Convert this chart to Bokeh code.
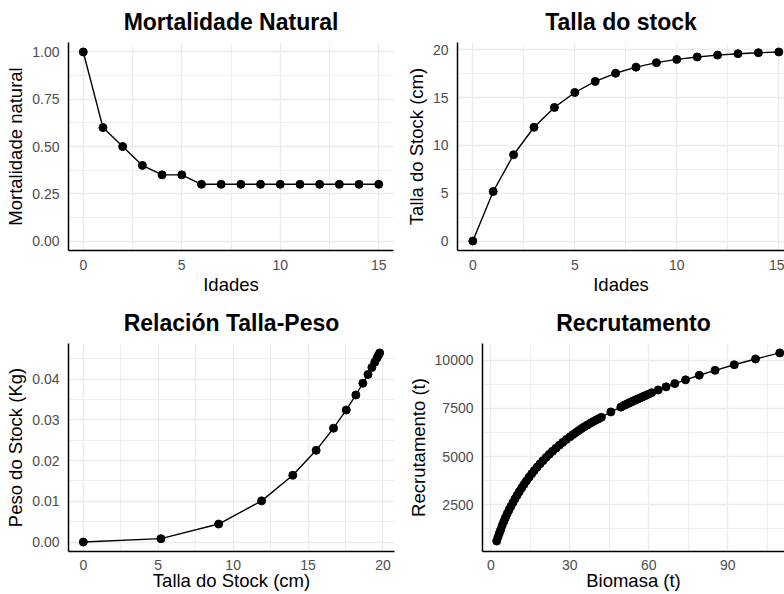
from bokeh.plotting import figure
from bokeh.layouts import column, row
from bokeh.models import Range1d, FixedTicker, NumeralTickFormatter
from bokeh.embed import file_html
from bokeh.resources import INLINE

# ---------------- data ----------------
idades = [0, 1, 2, 3, 4, 5, 6, 7, 8, 9, 10, 11, 12, 13, 14, 15]
mortalidade = [1.0, 0.6, 0.5, 0.4, 0.35, 0.35, 0.3, 0.3, 0.3, 0.3, 0.3, 0.3, 0.3, 0.3, 0.3, 0.3]
talla = [0, 5.18, 9.03, 11.9, 13.98, 15.54, 16.7, 17.55, 18.19, 18.66, 19.0, 19.26, 19.45, 19.6, 19.7, 19.78]
peso = [0, 0.00083, 0.00442, 0.01011, 0.01639, 0.02252, 0.02795, 0.03243, 0.03611,
        0.03899, 0.04115, 0.04287, 0.04415, 0.04518, 0.04587, 0.04643]
biomasa = [2.2, 2.7, 3.2, 3.7, 4.3, 4.9, 5.5, 6.2, 6.9, 7.6, 8.4, 9.2, 10.0, 10.8, 11.7,
           12.6, 13.5, 14.5, 15.5, 16.5, 17.6, 18.7, 19.8, 21.0, 22.2, 23.4, 24.7, 26.0,
           27.3, 28.7, 30.1, 31.2, 32.3, 33.4, 34.5, 35.6, 36.7, 37.8, 38.9, 40.0, 41.0,
           42.0, 45.6, 49.4, 50.6, 51.2, 51.8, 52.4, 53.0, 53.6, 54.2, 54.8, 55.4, 56.0,
           56.7, 57.4, 58.1, 58.9, 59.8, 61.1, 63.6, 66.6, 69.9, 74.0, 79.2, 85.2, 92.5,
           100.6, 109.8]
recrutamento = [600, 810, 1000, 1190, 1410, 1617, 1810, 2025, 2222, 2410, 2610, 2805, 2990,
                3170, 3365, 3550, 3730, 3918, 4098, 4270, 4450, 4622, 4786, 4955, 5115, 5270,
                5430, 5585, 5733, 5890, 6030, 6140, 6248, 6354, 6457, 6555, 6645, 6735, 6820,
                6900, 6970, 7040, 7320, 7570, 7660, 7700, 7740, 7778, 7816, 7854, 7892, 7930,
                7968, 8005, 8047, 8090, 8132, 8180, 8235, 8320, 8463, 8625, 8795, 8990, 9230,
                9485, 9775, 10075, 10390]

# tick positions (major / minor grid)
ticks_idades = [0, 5, 10, 15]
minor_idades = [2.5, 7.5, 12.5]
ticks_mort = [0, 0.25, 0.5, 0.75, 1.0]
minor_mort = [0.125, 0.375, 0.625, 0.875]
ticks_talla_y = [0, 5, 10, 15, 20]
minor_talla_y = [2.5, 7.5, 12.5, 17.5]
ticks_talla_x = [0, 5, 10, 15, 20]
minor_talla_x = [2.5, 7.5, 12.5, 17.5]
ticks_peso = [0, 0.01, 0.02, 0.03, 0.04]
minor_peso = [0.005, 0.015, 0.025, 0.035, 0.045]
ticks_biom = [0, 30, 60, 90]
minor_biom = [15, 45, 75, 105]
ticks_recr = [2500, 5000, 7500, 10000]
minor_recr = [1250, 3750, 6250, 8750]

FONT = "Liberation Sans"
GRID = "#EBEBEB"


def make(title, xlabel, ylabel, xr, yr, xt, xm, yt, ym, w, h, bl, br, bt, bb, xls, xas):
    p = figure(width=w, height=h, x_range=Range1d(*xr), y_range=Range1d(*yr),
               output_backend="svg", toolbar_location=None,
               min_border_left=bl, min_border_right=br,
               min_border_top=bt, min_border_bottom=bb)
    p.outline_line_color = None
    p.title.text = title
    p.title.align = "center"
    p.title.vertical_align = "top"
    p.title.standoff = 12
    p.title.text_font = FONT
    p.title.text_font_size = "23px"
    p.title.text_font_style = "bold"
    p.title.text_color = "black"
    xtk = FixedTicker(ticks=xt, minor_ticks=xm)
    ytk = FixedTicker(ticks=yt, minor_ticks=ym)
    p.xaxis.ticker = xtk
    p.yaxis.ticker = ytk
    p.xgrid.ticker = xtk
    p.ygrid.ticker = ytk
    for g in (p.xgrid, p.ygrid):
        g.grid_line_color = GRID
        g.grid_line_width = 1.3
        g.minor_grid_line_color = GRID
        g.minor_grid_line_width = 0.8
    for ax in (p.xaxis, p.yaxis):
        ax.axis_line_color = "black"
        ax.axis_line_width = 1.5
        ax.major_tick_line_color = None
        ax.minor_tick_line_color = None
        ax.major_tick_out = 0
        ax.major_tick_in = 0
        ax.minor_tick_out = 0
        ax.minor_tick_in = 0
        ax.major_label_text_font = FONT
        ax.major_label_text_font_size = "14px"
        ax.major_label_text_color = "#4D4D4D"
        ax.axis_label_text_font = FONT
        ax.axis_label_text_font_size = "18.5px"
        ax.axis_label_text_font_style = "normal"
        ax.axis_label_text_color = "black"
    p.xaxis.axis_label = xlabel
    p.yaxis.axis_label = ylabel
    p.xaxis.major_label_standoff = xls
    p.yaxis.major_label_standoff = 9
    p.xaxis.axis_label_standoff = xas
    p.yaxis.axis_label_standoff = 3
    return p


def draw(p, x, y):
    p.line(x, y, line_color="black", line_width=1.4)
    p.scatter(x, y, size=8, fill_color="black", line_color="black")


p1 = make("Mortalidade Natural", "Idades", "Mortalidade natural",
          (-0.75, 15.75), (-0.05, 1.05), ticks_idades, minor_idades, ticks_mort, minor_mort,
          400, 298, 68, 7, 42, 48, 9, 1)
p1.yaxis.formatter = NumeralTickFormatter(format="0.00")
draw(p1, idades, mortalidade)

p2 = make("Talla do stock", "Idades", "Talla do Stock (cm)",
          (-0.75, 15.28), (-0.989, 20.77), ticks_idades, minor_idades, ticks_talla_y, minor_talla_y,
          384, 298, 57, 0, 42, 48, 9, 1)
draw(p2, idades, talla)

p3 = make("Relación Talla-Peso", "Talla do Stock (cm)", "Peso do Stock (Kg)",
          (-0.99, 20.77), (-0.00232, 0.04875), ticks_talla_x, minor_talla_x, ticks_peso, minor_peso,
          400, 296, 68, 6, 45, 43, 8, -3)
p3.yaxis.formatter = NumeralTickFormatter(format="0.00")
draw(p3, talla, peso)

p4 = make("Recrutamento", "Biomasa (t)", "Recrutamento (t)",
          (-3.18, 111.6), (60, 10880), ticks_biom, minor_biom, ticks_recr, minor_recr,
          384, 296, 82, 0, 45, 43, 8, -3)
p4.yaxis.formatter = NumeralTickFormatter(format="0")
draw(p4, biomasa, recrutamento)

layout = column(row(p1, p2), row(p3, p4))
open("out.html", "w").write(file_html(layout, INLINE))
